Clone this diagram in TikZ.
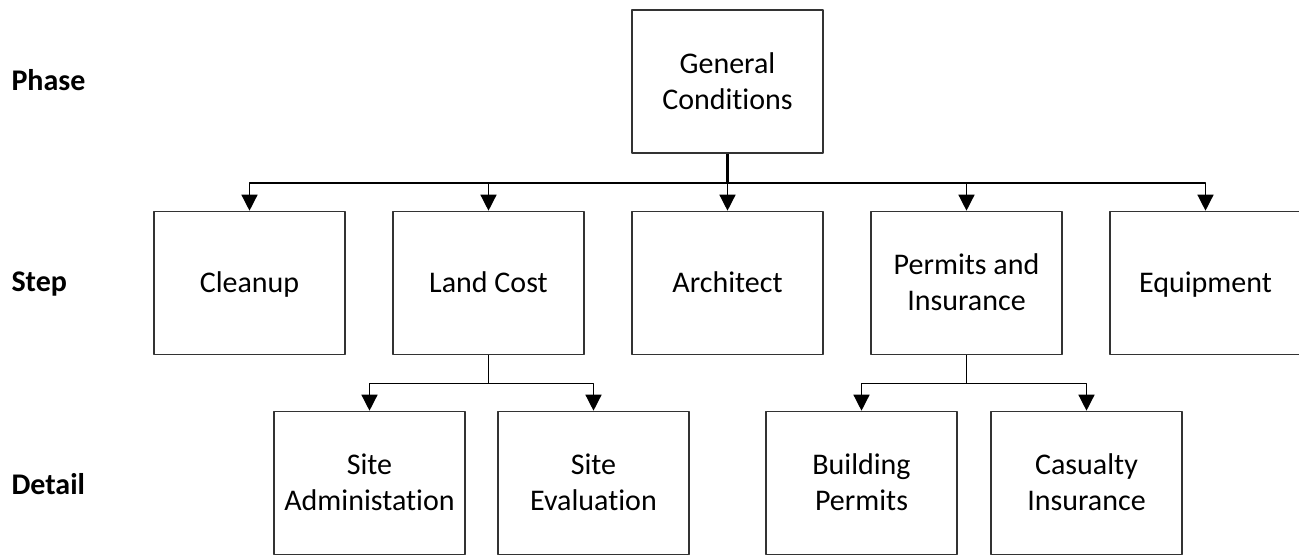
\documentclass[tikz,border=0pt]{standalone}
\usepackage{fontspec}
\setmainfont{Carlito}[Ligatures=NoCommon]
\usetikzlibrary{arrows.meta}
\begin{document}
\begin{tikzpicture}[x=1pt,y=-1pt,line join=round,>={Triangle[width=16pt,length=16pt]},
	box/.style={draw=black!80,line width=1.6pt,minimum width=191pt,minimum height=143pt,align=center,text depth=1pt,font=\fontsize{30}{36}\selectfont},
	level/.style={anchor=west,font=\fontsize{30}{36}\selectfont\bfseries},
	link/.style={line width=1.4pt}]
	
	\useasboundingbox (0,0) rectangle (1299,557);
	% levels
	\node[level] (phase) at (8,80) {Phase};
	\node[level] (step) at (8,284) {Step};
	\node[level] (detail) at (8,484) {Detail};
	% boxes
	\node[box] (gc) at (727.5,81.5) {General\\Conditions};
	\node[box] (cl) at (249.5,283) {Cleanup};
	\node[box] (lc) at (488.5,283) {Land Cost};
	\node[box] (ar) at (727.5,283) {Architect};
	\node[box] (pi) at (966.5,283) {Permits and\\Insurance};
	\node[box] (eq) at (1205.5,283) {Equipment};
	\node[box] (sa) at (369.5,483) {Site\\Administation};
	\node[box] (se) at (593.5,483) {Site\\Evaluation};
	\node[box] (bp) at (861.5,483) {Building\\Permits};
	\node[box] (ci) at (1086.5,483) {Casualty\\Insurance};
	% connectors
	\path (gc.south) ++(0,29) coordinate (gcbus);
	\path (lc.south) ++(0,28) coordinate (lcbus);
	\path (pi.south) ++(0,28) coordinate (pibus);
	\draw[line width=3pt] (gc.south) -- (gcbus);
	\foreach \n in {cl,lc,ar,pi,eq}
		\draw[link,->] (gcbus) -| (\n.north);
	\draw[link] (lc.south) -- (lcbus) (pi.south) -- (pibus);
	\foreach \n in {sa,se}
		\draw[link,->] (lcbus) -| (\n.north);
	\foreach \n in {bp,ci}
		\draw[link,->] (pibus) -| (\n.north);
\end{tikzpicture}
\end{document}
